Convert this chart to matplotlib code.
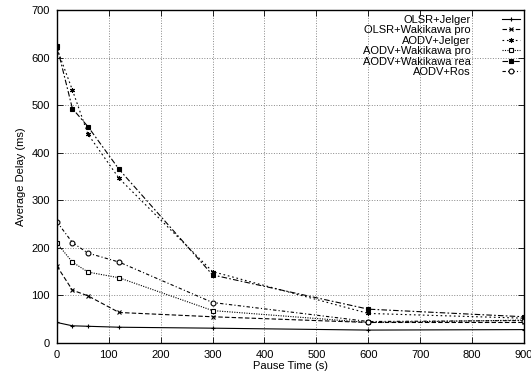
import matplotlib
matplotlib.use('Agg')
import matplotlib.pyplot as plt

plt.rcParams['font.family'] = ['Liberation Sans', 'DejaVu Sans']
plt.rcParams['font.size'] = 8

# Данные
pause = [0, 30, 60, 120, 300, 600, 900]
olsr_jelger = [43, 36, 35, 33, 31, 27, 28]
olsr_wak_pro = [162, 111, 99, 64, 55, 43, 43]
aodv_jelger = [620, 532, 439, 346, 150, 62, 52]
aodv_wak_pro = [210, 170, 149, 137, 68, 43, 48]
aodv_wak_rea = [625, 493, 455, 365, 143, 71, 55]
aodv_ros = [255, 211, 189, 170, 85, 45, 47]

labels = ['OLSR+Jelger', 'OLSR+Wakikawa pro', 'AODV+Jelger',
          'AODV+Wakikawa pro', 'AODV+Wakikawa rea', 'AODV+Ros']
series = [olsr_jelger, olsr_wak_pro, aodv_jelger, aodv_wak_pro, aodv_wak_rea, aodv_ros]

styles = [
    dict(ls='-', marker='+', mfc='black'),
    dict(ls=(0, (4, 2)), marker='x', mfc='black'),
    dict(ls=(0, (1.5, 2.5)), marker=(6, 2, 0), mfc='black'),
    dict(ls=(0, (1, 1.2)), marker='s', mfc='white'),
    dict(ls=(0, (5, 2, 1.5, 2)), marker='s', mfc='black'),
    dict(ls=(0, (3, 2, 1, 2)), marker='o', mfc='white'),
]

fig = plt.figure(figsize=(5.31, 3.76), dpi=100)
ax = fig.add_axes([0.107, 0.088, 0.880, 0.885])

for y, lab, st in zip(series, labels, styles):
    ax.plot(pause, y, color='black', lw=0.8, ls=st['ls'], marker=st['marker'],
            mfc=st['mfc'], mec='black', ms=3.5, mew=0.8, label=lab)

ax.set_xlim(0, 900)
ax.set_ylim(0, 700)
ax.set_xticks(range(0, 901, 100))
ax.set_yticks(range(0, 701, 100))
ax.grid(True, color='#888888', ls=':', lw=0.7)
ax.tick_params(direction='in', top=True, right=True, length=4, width=0.6, pad=5)
for s in ax.spines.values():
    s.set_linewidth(1.0)

ax.set_xlabel('Pause Time (s)', labelpad=1)
ax.set_ylabel('Average Delay (ms)', labelpad=4)

ax.legend(loc='upper right', frameon=False, markerfirst=False, handlelength=1.6,
          labelspacing=0.05, borderaxespad=0.2, handletextpad=2.8, borderpad=0.2)

fig.savefig('out.png', dpi=100)
